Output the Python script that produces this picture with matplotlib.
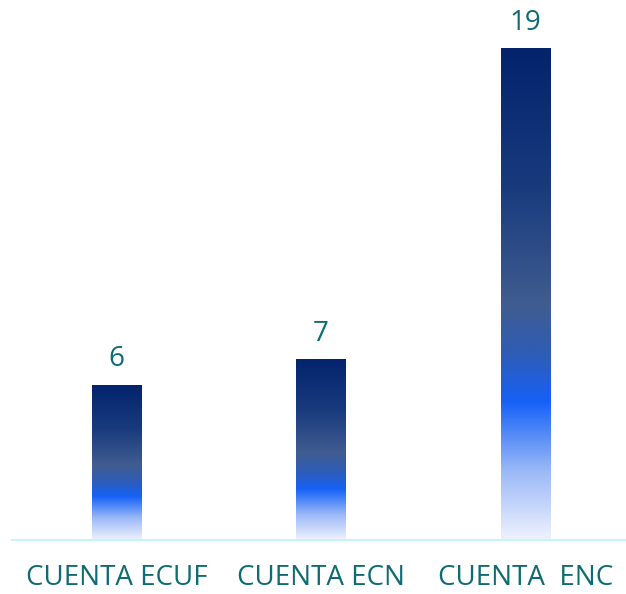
import matplotlib.pyplot as plt
import numpy as np
from matplotlib.colors import LinearSegmentedColormap

categories = ['CUENTA ECUF', 'CUENTA ECN', 'CUENTA  ENC']
values = [6, 7, 19]

TEXT_COLOR = '#0e6b73'
AXIS_COLOR = '#c9f4f7'

# degradado vertical de las barras (0 = arriba, 1 = base)
grad = LinearSegmentedColormap.from_list('barra', [
    (0.0, '#03236d'),
    (0.28, '#183a7d'),
    (0.52, '#405c90'),
    (0.62, '#2f5cb5'),
    (0.72, '#1661f6'),
    (0.76, '#3a7af7'),
    (0.86, '#9ab8f8'),
    (1.0, '#eef2fd'),
])

fig = plt.figure(figsize=(6.26, 5.94), dpi=100)
ax = fig.add_axes([12 / 626, 54 / 594, 614 / 626, 531 / 594])

x = np.arange(len(categories))
width = 0.24
bars = ax.bar(x, values, width=width, color='none', edgecolor='none')

img = np.linspace(0, 1, 256).reshape(-1, 1)
for b in bars:
    x0, w, h = b.get_x(), b.get_width(), b.get_height()
    im = ax.imshow(img, cmap=grad, aspect='auto', extent=[x0, x0 + w, 0, h],
                   origin='upper', zorder=2)
    im.set_clip_path(b)
    ax.annotate(str(int(h)), (x0 + w / 2, h), xytext=(0, 8),
                textcoords='offset points', ha='center', va='bottom',
                fontsize=20, color=TEXT_COLOR, family='Open Sans')

ax.set_xlim(-0.51, 2.49)
ax.set_ylim(0, 20.5)
ax.set_yticks([])
ax.set_xticks(x)
ax.set_xticklabels(categories, fontsize=20, color=TEXT_COLOR, family='Open Sans')
ax.tick_params(axis='x', length=0, pad=17)
for s in ['top', 'right', 'left']:
    ax.spines[s].set_visible(False)
ax.spines['bottom'].set_color(AXIS_COLOR)
ax.spines['bottom'].set_linewidth(1.5)

fig.savefig('out.png', dpi=100)
